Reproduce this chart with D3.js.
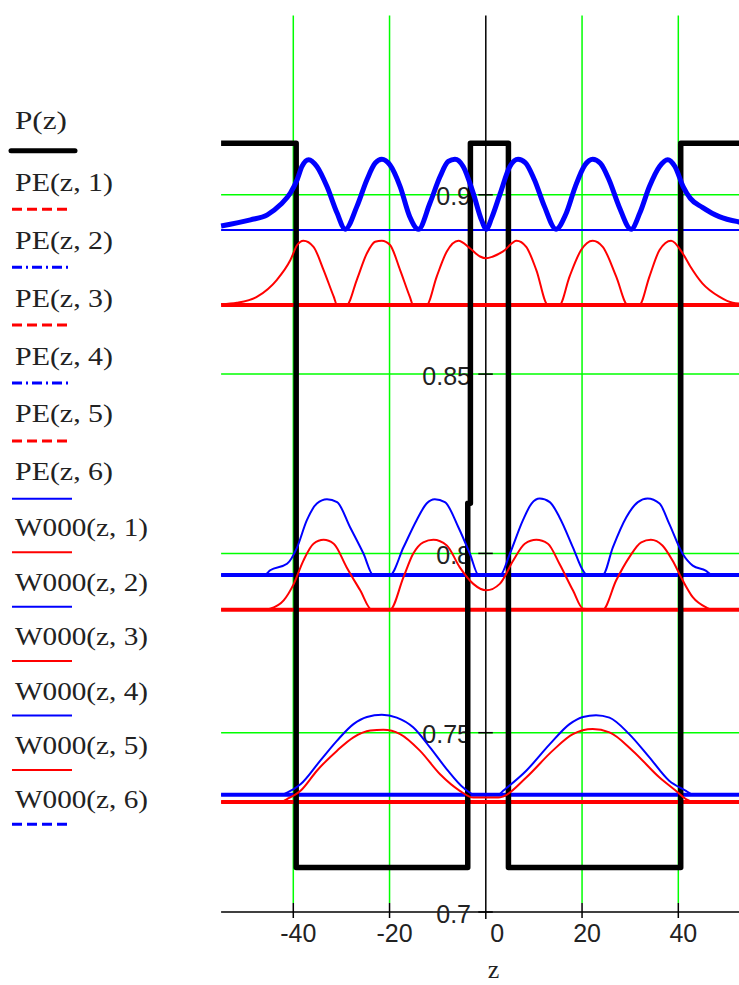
<!DOCTYPE html>
<html>
<head>
<meta charset="utf-8">
<script src="https://cdn.jsdelivr.net/npm/d3@7/dist/d3.min.js"></script>
<style>
  body { margin: 0; background: #fff; }
  text { fill: #222; }
</style>
</head>
<body>
<div class="chart"></div>
<script>
// axis ticks
var zTicks = [-40, -20, 0, 20, 40];
var vTicks = [0.7, 0.75, 0.8, 0.85, 0.9];
var gridZ = [-40, -20, 20, 40];
var gridV = [0.75, 0.8, 0.85, 0.9];

// legend names
var peNames = ["PE(z, 1)", "PE(z, 2)", "PE(z, 3)", "PE(z, 4)", "PE(z, 5)", "PE(z, 6)"];
var wNames = ["W000(z, 1)", "W000(z, 2)", "W000(z, 3)", "W000(z, 4)", "W000(z, 5)", "W000(z, 6)"];

// P(z) step profile
var pZ = [-55, -39.4, -39.4, -3.75, -3.75, -3.2, -3.2, 4.7, 4.7, 40.5, 40.5, 55];
var pV = [0.9144, 0.9144, 0.7124, 0.7124, 0.8140, 0.8140, 0.9144, 0.9144, 0.7124, 0.7124, 0.9144, 0.9144];

// constant levels PE(z,1..6)
var peLevels = [0.7307, 0.7327, 0.7843, 0.7940, 0.8693, 0.8902];

// W000(z,n) curves as [z, value]
var w1 = [[-55, 0.7307], [-42.5, 0.7307], [-41.3, 0.7315], [-38.5, 0.7338], [-35.1, 0.7394], [-30.9, 0.7450],
  [-27.5, 0.7487], [-24.0, 0.7506], [-21.3, 0.7508], [-17.8, 0.7496], [-13.7, 0.7450], [-9.5, 0.7384],
  [-5.4, 0.7338], [-2.6, 0.7319], [2.6, 0.7319], [3.6, 0.7322], [8.4, 0.7375], [13.9, 0.7450],
  [18.1, 0.7496], [22.2, 0.7510], [25.7, 0.7501], [30.5, 0.7450], [36.1, 0.7375], [39.5, 0.7338],
  [41.6, 0.7315], [43, 0.7307], [55, 0.7307]];

var w2 = [[-55, 0.7327], [-42.5, 0.7327], [-41.3, 0.7333], [-38.5, 0.7356], [-34.4, 0.7422], [-30.9, 0.7478],
  [-27.5, 0.7524], [-24.7, 0.7544], [-21.6, 0.7550], [-18.5, 0.7542], [-15.1, 0.7515], [-11.6, 0.7459],
  [-8.1, 0.7398], [-4.7, 0.7347], [-2.2, 0.7327], [2.6, 0.7327], [3.6, 0.7338], [8.4, 0.7394],
  [13.3, 0.7468], [17.4, 0.7524], [20.2, 0.7544], [22.9, 0.7549], [25.7, 0.7542], [29.8, 0.7496],
  [34.0, 0.7431], [38.1, 0.7366], [41.6, 0.7338], [43, 0.7327], [55, 0.7327]];

var w3 = [[-55, 0.7843], [-46, 0.7843], [-44.8, 0.7846], [-42, 0.7869], [-39.9, 0.7915], [-37.9, 0.7980],
  [-35.8, 0.8027], [-33.7, 0.8038], [-31.6, 0.8027], [-28.9, 0.7961], [-26.1, 0.7897], [-23.7, 0.7843],
  [-19.9, 0.7843], [-17.1, 0.7934], [-15.1, 0.7999], [-13.0, 0.8031], [-10.9, 0.8038], [-8.1, 0.8022],
  [-5.4, 0.7961], [-2.6, 0.7915], [0.1, 0.7897], [2.9, 0.7915], [5.7, 0.7980], [8.1, 0.8027],
  [10.5, 0.8038], [12.9, 0.8027], [15.3, 0.7971], [18.1, 0.7897], [20.2, 0.7846], [24.3, 0.7843],
  [27.1, 0.7925], [29.8, 0.7989], [32.3, 0.8031], [34.3, 0.8038], [36.7, 0.8022], [38.8, 0.7980],
  [40.9, 0.7925], [43.0, 0.7878], [45.7, 0.7850], [47, 0.7843], [55, 0.7843]];

var w4 = [[-55, 0.7940], [-46, 0.7940], [-44.8, 0.7953], [-41.3, 0.7971], [-39.2, 0.8017], [-37.2, 0.8092],
  [-35.1, 0.8139], [-33.0, 0.8151], [-30.9, 0.8143], [-28.2, 0.8073], [-25.4, 0.7999], [-23.4, 0.7940],
  [-19.9, 0.7940], [-17.1, 0.8017], [-14.4, 0.8092], [-12.3, 0.8139], [-10.6, 0.8151], [-8.5, 0.8143],
  [-5.7, 0.8073], [-3.3, 0.7999], [-1.5, 0.7940], [3.0, 0.7940], [5.0, 0.7999], [7.7, 0.8092],
  [9.5, 0.8139], [11.2, 0.8153], [13.3, 0.8143], [15.3, 0.8101], [18.1, 0.8017], [20.2, 0.7952],
  [21, 0.7940], [24.3, 0.7940], [26.4, 0.8017], [29.2, 0.8101], [31.6, 0.8143], [33.6, 0.8153],
  [36.1, 0.8139], [38.1, 0.8083], [40.9, 0.7999], [43.0, 0.7966], [45.7, 0.7952], [47, 0.7940], [55, 0.7940]];

var w5 = [[-55, 0.8695], [-51.7, 0.8699], [-47.5, 0.8716], [-43.4, 0.8763], [-40.6, 0.8818], [-39.2, 0.8860],
  [-37.9, 0.8872], [-35.8, 0.8855], [-33.7, 0.8790], [-31.6, 0.8716], [-30.9, 0.8693], [-28.9, 0.8693],
  [-26.8, 0.8763], [-24.7, 0.8837], [-23.0, 0.8869], [-21.6, 0.8872], [-19.9, 0.8860], [-17.8, 0.8790],
  [-15.8, 0.8716], [-15.1, 0.8693], [-12.3, 0.8693], [-10.2, 0.8772], [-8.1, 0.8842], [-5.7, 0.8872],
  [-3.3, 0.8851], [-1.2, 0.8828], [0.1, 0.8823], [1.5, 0.8828], [3.6, 0.8842], [6.4, 0.8872],
  [8.4, 0.8855], [10.5, 0.8790], [12.9, 0.8693], [15.3, 0.8693], [17.4, 0.8772], [19.8, 0.8846],
  [22.2, 0.8872], [24.3, 0.8855], [27.1, 0.8772], [29.5, 0.8693], [31.9, 0.8693], [34.0, 0.8772],
  [36.1, 0.8846], [38.5, 0.8872], [40.9, 0.8837], [42.5, 0.8800], [45.0, 0.8753], [48.5, 0.8716],
  [51.3, 0.8699], [55, 0.8695]];

var w6 = [[-55, 0.8913], [-48.9, 0.8930], [-45.4, 0.8944], [-42.7, 0.8972], [-40.6, 0.9005], [-39.2, 0.9042],
  [-38.2, 0.9079], [-36.8, 0.9098], [-35.1, 0.9079], [-33.0, 0.9023], [-30.9, 0.8949], [-29.2, 0.8904],
  [-26.8, 0.8967], [-24.7, 0.9042], [-23.0, 0.9088], [-21.6, 0.9099], [-19.9, 0.9083], [-17.8, 0.9023],
  [-15.8, 0.8939], [-14.0, 0.8904], [-11.6, 0.8977], [-9.5, 0.9051], [-7.8, 0.9093], [-6.4, 0.9099],
  [-4.7, 0.9079], [-2.6, 0.9004], [-0.9, 0.8930], [0.1, 0.8904], [1.2, 0.8935], [3.0, 0.9004],
  [5.0, 0.9079], [6.7, 0.9099], [8.2, 0.9090], [10.1, 0.9042], [12.2, 0.8967], [14.6, 0.8904],
  [16.6, 0.8945], [18.6, 0.9023], [20.6, 0.9083], [22.2, 0.9099], [23.8, 0.9088], [25.6, 0.9042],
  [27.7, 0.8967], [30.2, 0.8904], [32.0, 0.8949], [34.0, 0.9023], [36.1, 0.9079], [37.8, 0.9098],
  [39.3, 0.9079], [41.0, 0.9023], [42.5, 0.8990], [45.0, 0.8965], [48.5, 0.8939], [52.4, 0.8925], [55, 0.8920]];

var svgWidth = 739;
var svgHeight = 985;
var BLUE = "#0000ff", RED = "#ff0000", GREEN = "#00ff00";

var svg = d3.select(".chart")
  .append("svg")
  .attr("width", svgWidth)
  .attr("height", svgHeight)
  .style("display", "block");

var xScale = d3.scaleLinear().domain([-55, 55]).range([221.1, 750.5]);
var yScale = d3.scaleLinear().domain([0.7, 0.95]).range([912, 15.5]);

var x0 = xScale(0), yBase = yScale(0.7), yTop = yScale(0.95);

// green grid
svg.selectAll(".gx").data(gridZ).enter().append("line")
  .attr("x1", function (d) { return xScale(d); })
  .attr("x2", function (d) { return xScale(d); })
  .attr("y1", yTop).attr("y2", yBase - 9)
  .attr("stroke", GREEN).attr("stroke-width", 1.5);

svg.selectAll(".gy").data(gridV).enter().append("line")
  .attr("x1", xScale(-55)).attr("x2", svgWidth)
  .attr("y1", function (d) { return yScale(d); })
  .attr("y2", function (d) { return yScale(d); })
  .attr("stroke", GREEN).attr("stroke-width", 1.5);

// axes
svg.append("line")
  .attr("x1", xScale(-55)).attr("x2", svgWidth)
  .attr("y1", yBase).attr("y2", yBase)
  .attr("stroke", "#000").attr("stroke-width", 1.5);
svg.append("line")
  .attr("x1", x0).attr("x2", x0)
  .attr("y1", yTop).attr("y2", yBase + 7)
  .attr("stroke", "#000").attr("stroke-width", 1.5);

svg.selectAll(".tx").data(zTicks.filter(function (d) { return d !== 0; })).enter().append("line")
  .attr("x1", function (d) { return xScale(d); })
  .attr("x2", function (d) { return xScale(d); })
  .attr("y1", yBase - 9).attr("y2", yBase + 6)
  .attr("stroke", "#000").attr("stroke-width", 1.5);

svg.selectAll(".ty").data(vTicks).enter().append("line")
  .attr("x1", x0 - 7.5).attr("x2", x0 + 7)
  .attr("y1", function (d) { return yScale(d); })
  .attr("y2", function (d) { return yScale(d); })
  .attr("stroke", "#000").attr("stroke-width", 1.5);

svg.selectAll(".lx").data(zTicks).enter().append("text")
  .attr("x", function (d) { return xScale(d) + (d === 0 ? 11.5 : 5); })
  .attr("y", yBase + 29.5)
  .attr("text-anchor", "middle")
  .style("font-family", "'Liberation Sans', Arial, sans-serif")
  .style("font-size", "25px")
  .text(function (d) { return d < 0 ? "-" + Math.abs(d) : String(d); });

svg.selectAll(".ly").data(vTicks).enter().append("text")
  .attr("x", 471)
  .attr("y", function (d) { return yScale(d) + 10.5; })
  .attr("text-anchor", "end")
  .style("font-family", "'Liberation Sans', Arial, sans-serif")
  .style("font-size", "25px")
  .text(function (d) { return String(d); });

svg.append("text")
  .attr("x", 493.5).attr("y", 978)
  .attr("text-anchor", "middle")
  .style("font-family", "'Liberation Serif', serif")
  .style("font-size", "26px")
  .text("z");

// series
var wave = d3.line()
  .x(function (d) { return xScale(d[0]); })
  .y(function (d) { return yScale(d[1]); })
  .curve(d3.curveMonotoneX);

var step = d3.line()
  .x(function (d) { return xScale(d[0]); })
  .y(function (d) { return yScale(d[1]); });

var peColors = [RED, BLUE, RED, BLUE, RED, BLUE];
var peWidths = [4, 4, 4, 4, 4, 2];

peLevels.forEach(function (v, i) {
  svg.append("path")
    .attr("d", step([[-55, v], [55, v]]))
    .attr("fill", "none")
    .attr("stroke", peColors[i])
    .attr("stroke-width", peWidths[i]);
});

svg.append("path")
  .attr("d", step(pZ.map(function (z, i) { return [z, pV[i]]; })))
  .attr("fill", "none")
  .attr("stroke", "#000")
  .attr("stroke-width", 5.5)
  .attr("stroke-linejoin", "round");

var waves = [w1, w2, w3, w4, w5, w6];
var wColors = [RED, BLUE, RED, BLUE, RED, BLUE];
var wWidths = [2, 2, 2, 2, 2, 5];

waves.forEach(function (w, i) {
  svg.append("path")
    .attr("d", wave(w))
    .attr("fill", "none")
    .attr("stroke", wColors[i])
    .attr("stroke-width", wWidths[i])
    .attr("stroke-linejoin", "round");
});

// legend
var legend = svg.append("g").attr("class", "legend");
var legendFont = "'Liberation Serif', 'Times New Roman', serif";

function legendEntry(name, lineY, textW, color, width, dash, gap) {
  legend.append("text")
    .attr("x", 15).attr("y", lineY - gap)
    .attr("textLength", textW)
    .attr("lengthAdjust", "spacingAndGlyphs")
    .style("font-family", legendFont)
    .style("font-size", "26px")
    .text(name);
  legend.append("line")
    .attr("x1", 12).attr("x2", 72)
    .attr("y1", lineY).attr("y2", lineY)
    .attr("stroke", color)
    .attr("stroke-width", width)
    .attr("stroke-dasharray", dash);
}

legendEntry("P(z)", 150.7, 52, "#000", 5, null, 22);
legend.select("line").attr("x1", 11).attr("x2", 75).attr("stroke-linecap", "round");

var peDash = ["10,5", "10,4,2,4", "10,5", "10,4,2,4", "10,5", null];
var peLegW = [3, 3, 3, 3, 3, 2];
peNames.forEach(function (n, i) {
  legendEntry(n, 209.3 + i * 57.9, 98, peColors[i], peLegW[i], peDash[i], 18.5);
});

var wDash = [null, null, null, null, null, "10,5"];
var wLegW = [2, 2, 2, 2, 2, 3];
wNames.forEach(function (n, i) {
  legendEntry(n, 552.3 + i * 54.4, 133, wColors[i], wLegW[i], wDash[i], 16);
});
</script>
</body>
</html>
